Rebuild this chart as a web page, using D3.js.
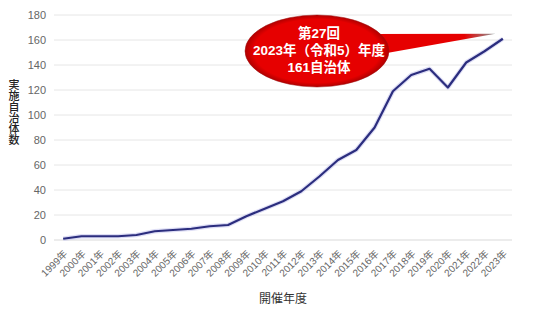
<!DOCTYPE html>
<html>
<head>
<meta charset="utf-8">
<script src="https://cdn.jsdelivr.net/npm/d3@7"></script>
<style>
  body { margin: 0; background: #fff; }
  svg { display: block; font-family: "Liberation Sans", "Noto Sans CJK JP", sans-serif; }
</style>
</head>
<body>
<svg id="chart" width="536" height="311"></svg>
<script>
const years = ["1999年", "2000年", "2001年", "2002年", "2003年", "2004年", "2005年", "2006年", "2007年", "2008年",
  "2009年", "2010年", "2011年", "2012年", "2013年", "2014年", "2015年", "2016年", "2017年", "2018年",
  "2019年", "2020年", "2021年", "2022年", "2023年"];
const counts = [1, 3, 3, 3, 4, 7, 8, 9, 11, 12, 19, 25, 31, 39, 51, 64, 72, 90, 119, 132, 137, 122, 142, 151, 161];
const yTicks = [0, 20, 40, 60, 80, 100, 120, 140, 160, 180];
const calloutLines = ["第27回", "2023年（令和5）年度", "161自治体"];
const yTitle = "実施自治体数";
const xTitle = "開催年度";

const margin = { top: 15, right: 24, bottom: 71, left: 54 };
const width = 536, height = 311;

const svg = d3.select("#chart");

const x = d3.scalePoint()
  .domain(years)
  .range([margin.left, width - margin.right])
  .padding(0.5);

const y = d3.scaleLinear()
  .domain([0, 180])
  .range([height - margin.bottom, margin.top]);

// grid lines
svg.append("g")
  .selectAll("line")
  .data(yTicks)
  .join("line")
  .attr("x1", margin.left)
  .attr("x2", width - margin.right)
  .attr("y1", (d) => y(d))
  .attr("y2", (d) => y(d))
  .attr("stroke", (d) => (d === 0 ? "#d9d9d9" : "#e6e6e6"))
  .attr("stroke-width", 1);

// y axis labels
svg.append("g")
  .attr("transform", "translate(" + margin.left + ",0)")
  .call(d3.axisLeft(y).tickValues(yTicks).tickSize(0).tickPadding(8))
  .call((g) => g.select(".domain").remove())
  .selectAll("text")
  .attr("fill", "#666")
  .attr("font-size", 11)
  .attr("font-family", "Liberation Sans, sans-serif");

// x axis labels
svg.append("g")
  .attr("transform", "translate(0," + y(0) + ")")
  .call(d3.axisBottom(x).tickSize(0).tickPadding(0))
  .call((g) => g.select(".domain").remove())
  .selectAll("text")
  .attr("fill", "#666")
  .attr("font-size", 10)
  .attr("font-family", "Liberation Sans, Noto Sans CJK JP, sans-serif")
  .attr("text-anchor", "end")
  .attr("dy", "0.35em")
  .attr("transform", "translate(2,12) rotate(-45)");

// line
const line = d3.line()
  .x((d, i) => x(years[i]))
  .y((d) => y(d));

svg.append("path")
  .datum(counts)
  .attr("fill", "none")
  .attr("stroke", "#c8c8ee")
  .attr("stroke-width", 4.5)
  .attr("stroke-linejoin", "round")
  .attr("opacity", 0.6)
  .attr("d", line);

svg.append("path")
  .datum(counts)
  .attr("fill", "none")
  .attr("stroke", "#2b2d7e")
  .attr("stroke-width", 2.2)
  .attr("stroke-linejoin", "round")
  .attr("d", line);

// axis titles (vertical y title)
svg.append("text")
  .attr("x", 14)
  .attr("y", 79)
  .style("writing-mode", "vertical-rl")
  .attr("text-anchor", "start")
  .attr("font-size", 11)
  .attr("font-weight", 500)
  .attr("fill", "#222")
  .attr("font-family", "Noto Sans CJK JP, sans-serif")
  .text(yTitle);

svg.append("text")
  .attr("x", 283)
  .attr("y", 303)
  .attr("text-anchor", "middle")
  .attr("font-size", 12)
  .attr("fill", "#333")
  .attr("font-family", "Noto Sans CJK JP, sans-serif")
  .text(xTitle);

// callout bubble
const defs = svg.append("defs");
const grad = defs.append("linearGradient").attr("id", "tail");
grad.append("stop").attr("offset", "0%").attr("stop-color", "#e60000");
grad.append("stop").attr("offset", "75%").attr("stop-color", "#e60000");
grad.append("stop").attr("offset", "100%").attr("stop-color", "#8a9a9a");

const rg = defs.append("radialGradient").attr("id", "bub");
rg.append("stop").attr("offset", "88%").attr("stop-color", "#e60000");
rg.append("stop").attr("offset", "100%").attr("stop-color", "#b00000");

const tipX = x(years[years.length - 2]) + 11;
const tipY = y(165);

svg.append("path")
  .attr("d", "M370,34 L" + tipX + "," + tipY + " L370,56 Z")
  .attr("fill", "url(#tail)");

svg.append("ellipse")
  .attr("cx", 317)
  .attr("cy", 51)
  .attr("rx", 72)
  .attr("ry", 36)
  .attr("fill", "url(#bub)")
  .attr("stroke", "#a01010")
  .attr("stroke-opacity", 0.5)
  .attr("stroke-width", 1);

svg.append("g")
  .selectAll("text")
  .data(calloutLines)
  .join("text")
  .attr("x", 319)
  .attr("y", (d, i) => 38 + i * 17)
  .attr("text-anchor", "middle")
  .attr("font-size", 13.5)
  .attr("font-weight", "bold")
  .attr("fill", "#fff")
  .attr("font-family", "Liberation Sans, Noto Sans CJK JP, sans-serif")
  .text((d) => d);
</script>
</body>
</html>
